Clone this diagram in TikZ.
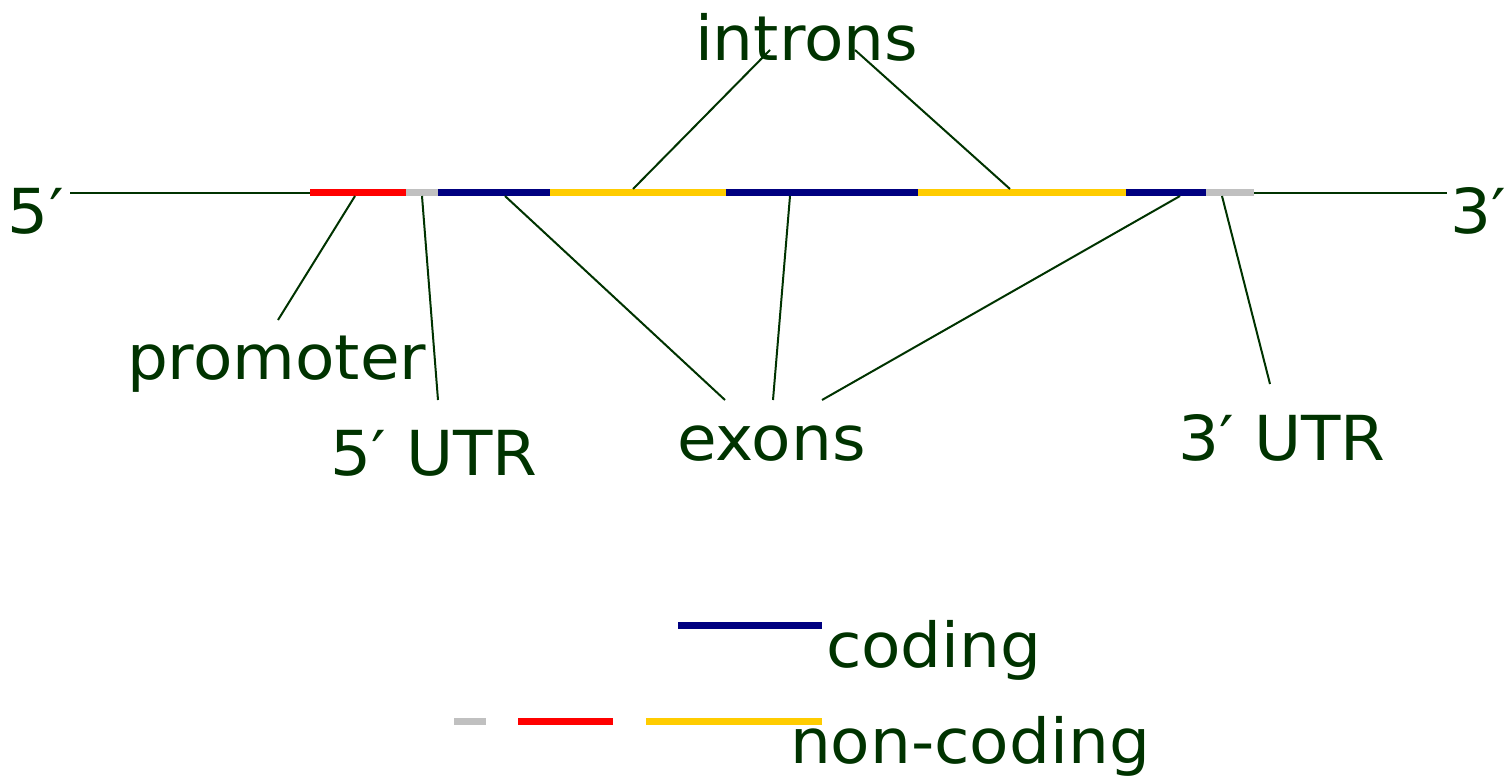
\documentclass[tikz,border=0pt]{standalone}
\usepackage{fontspec}
\setmainfont{DejaVu Sans}[FakeStretch=1.04]
\definecolor{txtgreen}{RGB}{0,51,0}
\definecolor{codblue}{RGB}{0,0,128}
\definecolor{ncgrey}{RGB}{192,192,192}
\definecolor{ncyellow}{RGB}{255,204,0}

\begin{document}
\begin{tikzpicture}[x=1pt,y=-1pt,font=\fontsize{62}{70}\selectfont,
    lbl/.style={anchor=base west,inner sep=0pt,outer sep=0pt,text=txtgreen},
    seg/.style={line width=7pt},
    ptr/.style={draw=txtgreen,line width=2pt}]
    \useasboundingbox (0,0) rectangle (1511,777);

    % gene
    \coordinate (G0) at (70,192.5);
    \coordinate (G1) at (310,192.5);
    \coordinate (G2) at (406,192.5);
    \coordinate (G3) at (438,192.5);
    \coordinate (G4) at (550,192.5);
    \coordinate (G5) at (726,192.5);
    \coordinate (G6) at (918,192.5);
    \coordinate (G7) at (1126,192.5);
    \coordinate (G8) at (1206,192.5);
    \coordinate (G9) at (1254,192.5);
    \coordinate (G10) at (1447,192.5);

    \draw[ptr] (G0) -- (G1);
    \draw[ptr] (G9) -- (G10);
    \draw[seg,red] (G1) -- (G2);
    \draw[seg,ncgrey] (G2) -- (G3);
    \draw[seg,codblue] (G3) -- (G4);
    \draw[seg,ncyellow] (G4) -- (G5);
    \draw[seg,codblue] (G5) -- (G6);
    \draw[seg,ncyellow] (G6) -- (G7);
    \draw[seg,codblue] (G7) -- (G8);
    \draw[seg,ncgrey] (G8) -- (G9);

    % labels
    \node[lbl] (L5) at (8,233) {5′};
    \node[lbl] (L3) at (1450,233) {3′};
    \node[lbl] (INT) at (695,60) {introns};
    \node[lbl] (PROM) at (127,379) {promoter};
    \node[lbl] (UTR5) at (330,475) {5′ UTR};
    \node[lbl] (EX) at (677,460) {exons};
    \node[lbl] (UTR3) at (1178,460) {3′ UTR};

    % pointers
    \coordinate (P1) at (355,196);   \coordinate (P1e) at (278,320);
    \coordinate (U1) at (422,196);   \coordinate (U1e) at (438,400);
    \coordinate (E1) at (505,196);   \coordinate (E1e) at (725,400);
    \coordinate (E2) at (790,196);   \coordinate (E2e) at (773,400);
    \coordinate (E3) at (1180,196);  \coordinate (E3e) at (822,400);
    \coordinate (U2) at (1222,196);  \coordinate (U2e) at (1270,384);
    \coordinate (I1) at (633,189);   \coordinate (I1e) at (770,50);
    \coordinate (I2) at (1010,189);  \coordinate (I2e) at (855,50);

    \draw[ptr] (P1) -- (P1e);
    \draw[ptr] (U1) -- (U1e);
    \draw[ptr] (E1) -- (E1e);
    \draw[ptr] (E2) -- (E2e);
    \draw[ptr] (E3) -- (E3e);
    \draw[ptr] (U2) -- (U2e);
    \draw[ptr] (I1) -- (I1e);
    \draw[ptr] (I2) -- (I2e);

    % legend
    \coordinate (C0) at (678,625);  \coordinate (C1) at (822,625);
    \coordinate (N0) at (454,721);  \coordinate (N1) at (486,721);
    \coordinate (N2) at (518,721);  \coordinate (N3) at (613,721);
    \coordinate (N4) at (646,721);  \coordinate (N5) at (822,721);
    \draw[seg,codblue] (C0) -- (C1);
    \draw[seg,ncgrey] (N0) -- (N1);
    \draw[seg,red] (N2) -- (N3);
    \draw[seg,ncyellow] (N4) -- (N5);
    \node[lbl] (COD) at (826,667) {coding};
    \node[lbl] (NCOD) at (790,763) {non-coding};
\end{tikzpicture}
\end{document}
